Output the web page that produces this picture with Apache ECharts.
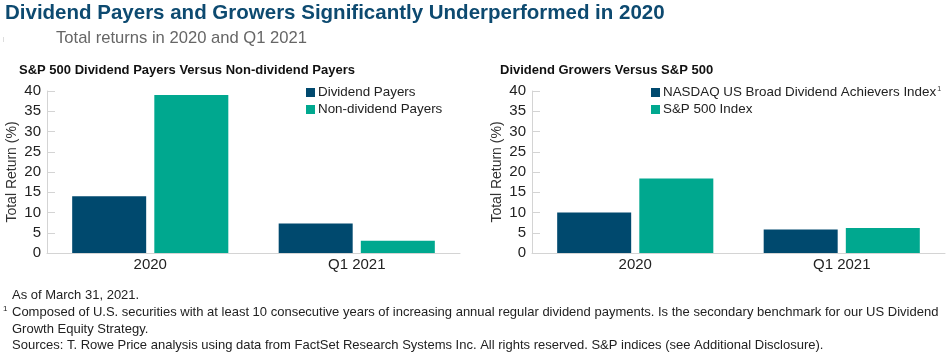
<!DOCTYPE html>
<html>
<head>
<meta charset="utf-8">
<script src="https://cdn.jsdelivr.net/npm/echarts@6/dist/echarts.min.js"></script>
<style>
html,body{margin:0;padding:0;background:#fff;}
#main{width:947px;height:357px;}
</style>
</head>
<body>
<div id="main"></div>
<script>
const categories = ['2020', 'Q1 2021'];
const yTicks = [0, 5, 10, 15, 20, 25, 30, 35, 40];

const leftSeriesNames = ['Dividend Payers', 'Non-dividend Payers'];
const dividendPayers = [14.0, 7.3];
const nonDividendPayers = [39.0, 3.0];

const rightSeriesNames = ['NASDAQ US Broad Dividend Achievers Index', 'S&P 500 Index'];
const nasdaqAchievers = [10.0, 5.8];
const sp500Index = [18.4, 6.2];

const mainTitle = 'Dividend Payers and Growers Significantly Underperformed in 2020';
const subTitle = 'Total returns in 2020 and Q1 2021';
const leftTitle = 'S&P 500 Dividend Payers Versus Non-dividend Payers';
const rightTitle = 'Dividend Growers Versus S&P 500';
const yAxisName = 'Total Return (%)';
const footnotes = [
  'As of March 31, 2021.',
  'Composed of U.S. securities with at least 10 consecutive years of increasing annual regular dividend payments. Is the secondary benchmark for our US Dividend',
  'Growth Equity Strategy.',
  'Sources: T. Rowe Price analysis using data from FactSet Research Systems Inc. All rights reserved. S&P indices (see Additional Disclosure).'
];

const DARK = '#00496E';
const TEAL = '#00A88F';
const FONT = '"Liberation Sans", Arial, Helvetica, sans-serif';
const AXIS_COLOR = '#d4d4d4';

const chart = echarts.init(document.getElementById('main'), null, {renderer: 'canvas'});

function yAxis(gridIndex) {
  return {
    gridIndex: gridIndex,
    type: 'value',
    min: yTicks[0],
    max: yTicks[yTicks.length - 1],
    interval: yTicks[1] - yTicks[0],
    name: yAxisName,
    nameLocation: 'middle',
    nameGap: 28,
    nameTextStyle: {fontFamily: FONT, fontSize: 14, color: '#333'},
    axisLine: {show: true, lineStyle: {color: AXIS_COLOR, width: 1}},
    axisTick: {show: true, inside: true, length: 8, lineStyle: {color: AXIS_COLOR}},
    splitLine: {show: false},
    axisLabel: {fontFamily: FONT, fontSize: 15, color: '#222', margin: 6}
  };
}
function xAxis(gridIndex) {
  return {
    gridIndex: gridIndex,
    type: 'category',
    data: categories,
    axisLine: {show: true, lineStyle: {color: AXIS_COLOR, width: 1}},
    axisTick: {show: false},
    axisLabel: {fontFamily: FONT, fontSize: 15, color: '#222', margin: 4}
  };
}
function bar(name, data, color, idx) {
  return {
    name: name,
    type: 'bar',
    xAxisIndex: idx,
    yAxisIndex: idx,
    data: data,
    barWidth: 74,
    barGap: '11%',
    itemStyle: {color: color},
    emphasis: {disabled: true}
  };
}
function legend(names, left, withSup) {
  return {
    data: names,
    left: left, top: 86, orient: 'vertical',
    padding: 0,
    itemWidth: 9, itemHeight: 9, itemGap: 4,
    icon: 'rect',
    formatter: function (n) {
      return (withSup && n === rightSeriesNames[0]) ? n + '{sup|1}' : n;
    },
    textStyle: {
      fontFamily: FONT, fontSize: 13.4, color: '#222', padding: [0, 0, 0, -2],
      rich: {sup: {fontFamily: FONT, fontSize: 7, color: '#333', verticalAlign: 'top', padding: [0, 0, 6, 1]}}
    }
  };
}

const graphics = [
  {type: 'text', left: 5, top: 3, style: {text: mainTitle, font: 'bold 20.5px ' + FONT, fill: '#0D4A70'}},
  {type: 'rect', shape: {x: 3, y: 37, width: 1, height: 5}, style: {fill: '#ddd'}},
  {type: 'text', left: 56, top: 30, style: {text: subTitle, font: '16.6px ' + FONT, fill: '#666'}},
  {type: 'text', left: 19, top: 64, style: {text: leftTitle, font: 'bold 13px ' + FONT, fill: '#111'}},
  {type: 'text', left: 500, top: 64, style: {text: rightTitle, font: 'bold 13px ' + FONT, fill: '#111'}},
  {type: 'text', left: 12, top: 289, style: {text: footnotes[0], font: '13px ' + FONT, fill: '#222'}},
  {type: 'text', left: 3, top: 305, style: {text: '1', font: '8px ' + FONT, fill: '#222'}},
  {type: 'text', left: 12, top: 306, style: {text: footnotes[1], font: '13px ' + FONT, fill: '#222'}},
  {type: 'text', left: 12, top: 323, style: {text: footnotes[2], font: '13px ' + FONT, fill: '#222'}},
  {type: 'text', left: 12, top: 339, style: {text: footnotes[3], font: '13px ' + FONT, fill: '#222'}}
];

const option = {
  animation: false,
  backgroundColor: '#fff',
  textStyle: {fontFamily: FONT},
  grid: [
    {left: 47, right: 487, top: 91, bottom: 104},
    {left: 532, right: 2, top: 91, bottom: 104}
  ],
  xAxis: [xAxis(0), xAxis(1)],
  yAxis: [yAxis(0), yAxis(1)],
  legend: [legend(leftSeriesNames, 306, false), legend(rightSeriesNames, 651, true)],
  series: [
    bar(leftSeriesNames[0], dividendPayers, DARK, 0),
    bar(leftSeriesNames[1], nonDividendPayers, TEAL, 0),
    bar(rightSeriesNames[0], nasdaqAchievers, DARK, 1),
    bar(rightSeriesNames[1], sp500Index, TEAL, 1)
  ],
  graphic: graphics
};
chart.setOption(option);
</script>
</body>
</html>
